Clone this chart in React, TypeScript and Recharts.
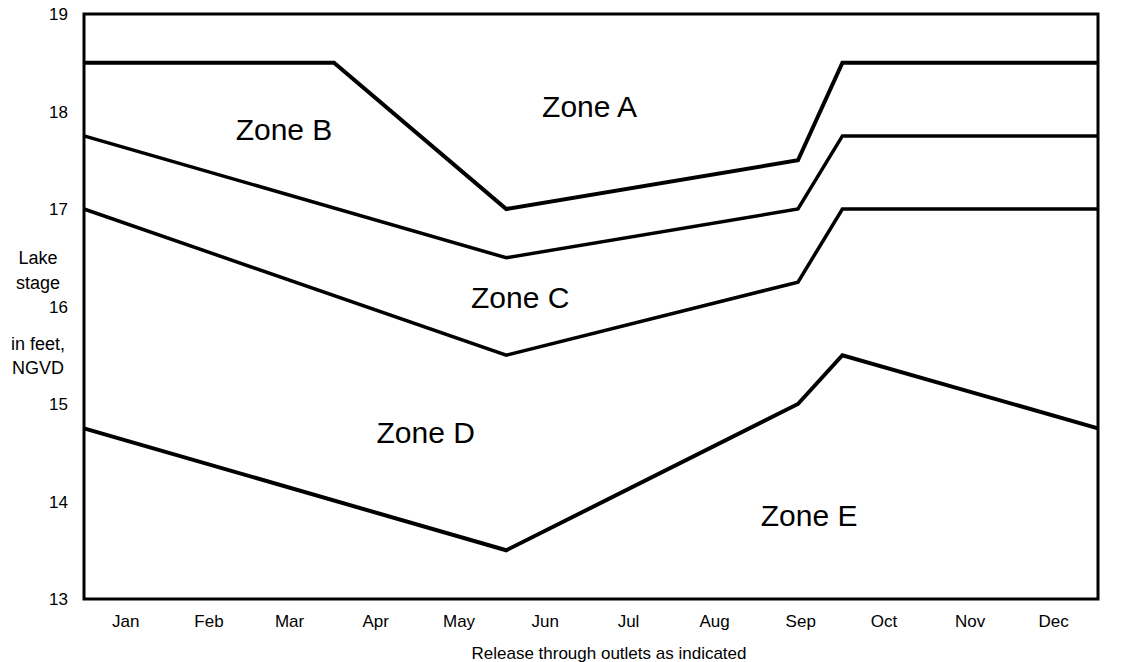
import { LineChart, Line, XAxis, YAxis, ReferenceArea, ReferenceDot } from 'recharts';

// day of year (Jan 1 = 0) for each break point
const daysA = [0, 90, 152, 257, 273, 365];
const stageA = [18.5, 18.5, 17.0, 17.5, 18.5, 18.5];

const daysBCD = [0, 152, 257, 273, 365];
const stageB = [17.75, 16.5, 17.0, 17.75, 17.75];
const stageC = [17.0, 15.5, 16.25, 17.0, 17.0];
const stageD = [14.75, 13.5, 15.0, 15.5, 14.75];

const monthNames = ['Jan', 'Feb', 'Mar', 'Apr', 'May', 'Jun', 'Jul', 'Aug', 'Sep', 'Oct', 'Nov', 'Dec'];
const monthMidDays = [15, 45, 74, 105, 135, 166, 196, 227, 258, 288, 319, 349];
const stageTicks = [13, 14, 15, 16, 17, 18, 19];

const zoneNames = ['Zone A', 'Zone B', 'Zone C', 'Zone D', 'Zone E'];
const zoneDays = [182, 72, 157, 123, 261];
const zoneStages = [18.05, 17.82, 16.09, 14.71, 13.86];

const toPoints = (days: number[], vals: number[]) => days.map((d, i) => ({ day: d, stage: vals[i] }));

const FONT = '"Liberation Sans", Arial, sans-serif';

function StageLabel() {
  const lines = [
    { t: 'Lake', y: 258 },
    { t: 'stage', y: 283 },
    { t: 'in feet,', y: 344 },
    { t: 'NGVD', y: 368 },
  ];
  return (
    <g>
      {lines.map((l) => (
        <text key={l.t} x={38} y={l.y} textAnchor="middle" dominantBaseline="central" fontSize={18} fontFamily={FONT} fill="#000">
          {l.t}
        </text>
      ))}
    </g>
  );
}

export default function App() {
  const tickStyle = { fontSize: 17, fontFamily: FONT, fill: '#000' };
  return (
    <div style={{ position: 'absolute', left: 0, top: 0, background: '#fff' }}>
      <LineChart width={1131} height={662} margin={{ top: 14, right: 0, bottom: 0, left: 0 }}>
        <XAxis
          type="number"
          dataKey="day"
          domain={[0, 365]}
          ticks={monthMidDays}
          tickFormatter={(v: number) => monthNames[monthMidDays.indexOf(v)]}
          axisLine={false}
          tickLine={false}
          tickSize={0}
          tickMargin={16}
          height={63}
          tick={tickStyle}
          label={{ value: 'Release through outlets as indicated', position: 'insideBottom', offset: 3, dx: 18, style: { fontSize: 17, fontFamily: FONT, fill: '#000' } }}
        />
        <YAxis
          yAxisId="left"
          type="number"
          domain={[13, 19]}
          ticks={stageTicks}
          width={84}
          axisLine={false}
          tickLine={false}
          tickSize={0}
          tickMargin={16}
          tick={tickStyle}
          label={<StageLabel />}
        />
        <YAxis
          yAxisId="right"
          orientation="right"
          type="number"
          domain={[13, 19]}
          ticks={stageTicks}
          width={33}
          axisLine={false}
          tickLine={false}
          tickSize={0}
          tickMargin={9}
          tick={tickStyle}
        />
        <ReferenceArea yAxisId="left" x1={0} x2={365} y1={13} y2={19} fill="none" stroke="#000" strokeWidth={3} />
        <Line yAxisId="left" data={toPoints(daysA, stageA)} dataKey="stage" stroke="#000" strokeWidth={4} dot={false} isAnimationActive={false} />
        <Line yAxisId="left" data={toPoints(daysBCD, stageB)} dataKey="stage" stroke="#000" strokeWidth={3.5} dot={false} isAnimationActive={false} />
        <Line yAxisId="left" data={toPoints(daysBCD, stageC)} dataKey="stage" stroke="#000" strokeWidth={3.5} dot={false} isAnimationActive={false} />
        <Line yAxisId="left" data={toPoints(daysBCD, stageD)} dataKey="stage" stroke="#000" strokeWidth={4} dot={false} isAnimationActive={false} />
        {zoneNames.map((z, i) => (
          <ReferenceDot
            key={z}
            yAxisId="left"
            x={zoneDays[i]}
            y={zoneStages[i]}
            r={0}
            fill="none"
            stroke="none"
            label={{ value: z, position: 'center', style: { fontSize: 30, fontFamily: FONT, fill: '#000' } }}
          />
        ))}
      </LineChart>
    </div>
  );
}
